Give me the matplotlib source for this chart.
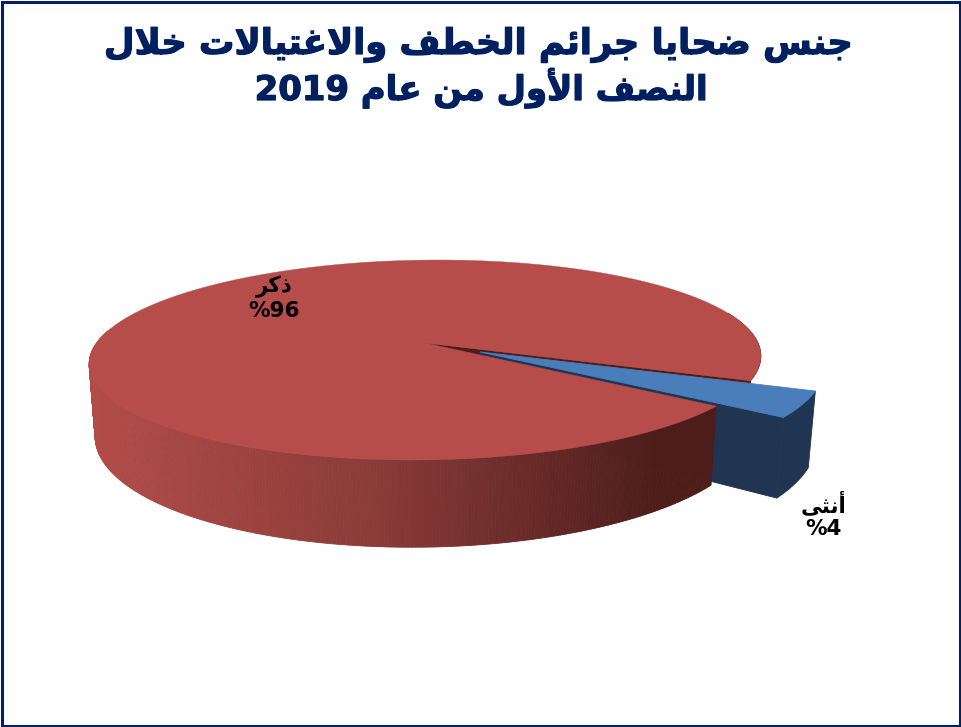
#!/usr/bin/env python
# -*- coding: utf-8 -*-
import re
import numpy as np
import matplotlib
matplotlib.use('Agg')
import matplotlib.pyplot as plt
import matplotlib.patheffects as pe
from matplotlib.colors import LinearSegmentedColormap
from matplotlib.patches import Rectangle

# Datos
etiquetas = ['أنثى', 'ذكر']
valores = [4, 96]
titulo = ['جنس ضحايا جرائم الخطف والاغتيالات خلال', 'النصف الأول من عام 2019']

# letter: isolated, final, initial, medial (initial/medial None = does not join forward)
FORMAS = {
    'ا': ('\uFE8D', '\uFE8E', None, None), 'أ': ('\uFE83', '\uFE84', None, None),
    'ب': ('\uFE8F', '\uFE90', '\uFE91', '\uFE92'),
    'ت': ('\uFE95', '\uFE96', '\uFE97', '\uFE98'), 'ث': ('\uFE99', '\uFE9A', '\uFE9B', '\uFE9C'),
    'ج': ('\uFE9D', '\uFE9E', '\uFE9F', '\uFEA0'), 'ح': ('\uFEA1', '\uFEA2', '\uFEA3', '\uFEA4'),
    'خ': ('\uFEA5', '\uFEA6', '\uFEA7', '\uFEA8'), 'ذ': ('\uFEAB', '\uFEAC', None, None),
    'ر': ('\uFEAD', '\uFEAE', None, None), 'س': ('\uFEB1', '\uFEB2', '\uFEB3', '\uFEB4'),
    'ص': ('\uFEB9', '\uFEBA', '\uFEBB', '\uFEBC'), 'ض': ('\uFEBD', '\uFEBE', '\uFEBF', '\uFEC0'),
    'ط': ('\uFEC1', '\uFEC2', '\uFEC3', '\uFEC4'), 'ع': ('\uFEC9', '\uFECA', '\uFECB', '\uFECC'),
    'غ': ('\uFECD', '\uFECE', '\uFECF', '\uFED0'), 'ف': ('\uFED1', '\uFED2', '\uFED3', '\uFED4'),
    'ك': ('\uFED9', '\uFEDA', '\uFEDB', '\uFEDC'), 'ل': ('\uFEDD', '\uFEDE', '\uFEDF', '\uFEE0'),
    'م': ('\uFEE1', '\uFEE2', '\uFEE3', '\uFEE4'), 'ن': ('\uFEE5', '\uFEE6', '\uFEE7', '\uFEE8'),
    'و': ('\uFEED', '\uFEEE', None, None), 'ي': ('\uFEF1', '\uFEF2', '\uFEF3', '\uFEF4'),
    'ى': ('\uFEEF', '\uFEF0', None, None), 'ئ': ('\uFE89', '\uFE8A', '\uFE8B', '\uFE8C'),
}
LAM_ALEF = {'ا': ('\uFEFB', '\uFEFC'), 'أ': ('\uFEF7', '\uFEF8')}


def arabe(texto):
    # matplotlib does no shaping: choose the joined forms, then put in visual order
    sal = ''
    i = 0
    previo = False
    while i < len(texto):
        c = texto[i]
        if c not in FORMAS:
            sal += c
            previo = False
            i += 1
            continue
        sig = texto[i + 1] if i + 1 < len(texto) else ''
        if c == 'ل' and sig in LAM_ALEF:
            sal += LAM_ALEF[sig][1 if previo else 0]
            previo = False
            i += 2
            continue
        f = FORMAS[c]
        une = f[2] is not None and sig in FORMAS
        if previo:
            sal += f[3] if une else f[1]
        else:
            sal += f[2] if une else f[0]
        previo = une
        i += 1
    sal = sal[::-1]
    return re.sub(r'[0-9]+', lambda m: m.group(0)[::-1], sal)


# Perspective of the pie, in pixels of the picture
cx, cy = 425., 343.
A, B, k = 331., 97., 0.17
inicio = -38.
explota = 0.19
giro = 0.012  # the rim leans slightly, right side higher


def proyecta(X, Y):
    px = cx + A * X / (1 + k * Y)
    return px, cy - B * Y / (1 + k * Y) - giro * (px - cx)


def abajo(x, y):
    # same point on the lower face of the pie
    return 0.982 * x + 7.6, 1.155 * y + 16


def borde(t1, t2, e=0., n=200):
    t = np.radians(np.linspace(t1, t2, n))
    m = np.radians((t1 + t2) / 2.)
    return proyecta(e * np.cos(m) + np.cos(t), e * np.sin(m) + np.sin(t))


def cara(ax, x, y, color):
    ax.fill(x, y, color=color, lw=0.6, zorder=2)


angulos = inicio + 360. * np.cumsum([0] + valores) / sum(valores)
a0, a1, a2 = angulos

fig = plt.figure(figsize=(9.61, 7.27), dpi=100)
ax = fig.add_axes([0, 0, 1, 1])
ax.set_xlim(0, 961)
ax.set_ylim(727, 0)
ax.axis('off')
ax.add_patch(Rectangle((1.5, 1.5), 958, 724, fill=False, ec='#002060', lw=2.2))

rojo = '#B64D4A'
azul = '#4A7EBB'
navy = '#1F3552'
oscuro = '#4E1D1A'

# wall seen in the gap left by the blue slice, and the bit of wall right of it
ax0, ay0 = proyecta(0., 0.)
x, y = borde(a1, a1 + 40, n=40)
bx, by = abajo(x, y)
cara(ax, np.r_[x, bx[::-1]], np.r_[y, by[::-1]], oscuro)
bx0, by0 = abajo(ax0, ay0)
cara(ax, [ax0, x[0], bx[0], bx0], [ay0, y[0], by[0], by0], oscuro)

# blue slice
m = np.radians((a0 + a1) / 2.)
ex, ey = proyecta(explota * np.cos(m), explota * np.sin(m))
x, y = borde(a0, a1, explota)
bx, by = abajo(x, y)
ebx, eby = abajo(ex, ey)
cara(ax, [ex, x[0], bx[0], ebx], [ey, y[0], by[0], eby], navy)
cara(ax, np.r_[x, bx[::-1]], np.r_[y, by[::-1]], navy)
cara(ax, np.r_[ex, x], np.r_[ey, y], azul)

# red slice wall, shaded from left to right
cmap = LinearSegmentedColormap.from_list('pared', ['#B24C48', '#8A3B38', '#4D1D1A'])
x, y = borde(170., 360. + a0, n=300)
bx, by = abajo(x, y)
for i in range(len(x) - 1):
    c = cmap(np.clip((x[i] - 90.) / 570., 0, 1))
    cara(ax, [x[i], x[i + 1], bx[i + 1], bx[i]], [y[i], y[i + 1], by[i + 1], by[i]], c)

# red top
x, y = borde(a1, a2, n=500)
ax.fill(np.r_[ax0, x], np.r_[ay0, y], color=rojo, lw=0.3, zorder=3)

# Textos
t1 = ax.text(478, 54, arabe(titulo[0]), color='#002060', fontsize=25.4,
             fontweight='bold', ha='center', va='baseline', zorder=5)
t2 = ax.text(481, 100, arabe(titulo[1]), color='#002060', fontsize=24.4,
             fontweight='bold', ha='center', va='baseline', zorder=5)
for t in (t1, t2):
    t.set_path_effects([pe.withStroke(linewidth=0.9, foreground='#002060')])
ax.text(823, 515, arabe(etiquetas[0]) + '\n' + arabe('%d%%' % valores[0]), fontsize=15.5,
        fontweight='bold', color='black', ha='center', va='center', zorder=5)
ax.text(274, 298, arabe(etiquetas[1]) + '\n' + arabe('%d%%' % valores[1]), fontsize=15.5,
        fontweight='bold', color='black', ha='center', va='center', zorder=5)

plt.savefig('out.png', dpi=100)
